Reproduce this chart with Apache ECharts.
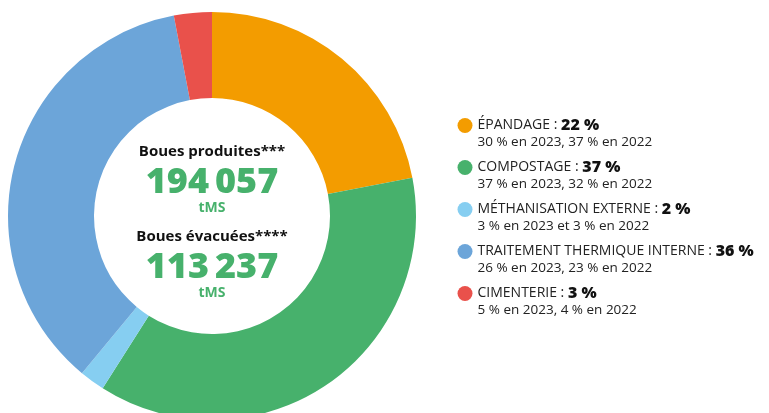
<!DOCTYPE html>
<html>
<head>
<meta charset="utf-8">
<script src="https://cdn.jsdelivr.net/npm/echarts@6/dist/echarts.min.js"></script>
<style>
html,body{margin:0;padding:0;background:#fff;}
#chart{width:769px;height:413px;}
</style>
</head>
<body>
<div id="chart"></div>
<script>
var categories = ['ÉPANDAGE', 'COMPOSTAGE', 'MÉTHANISATION EXTERNE', 'TRAITEMENT THERMIQUE INTERNE', 'CIMENTERIE'];
var values2024 = [22, 37, 2, 36, 3];
var values2023 = [30, 37, 3, 26, 5];
var values2022 = [37, 32, 3, 23, 4];
var joiners = [', ', ', ', ' et ', ', ', ', '];
var colors = ['#F39C00', '#47B16C', '#86CEF1', '#6CA5D9', '#E9514B'];
var centerTitles = ['Boues produites***', 'Boues évacuées****'];
var centerValues = ['194\u2009057', '113\u2009237'];
var centerUnit = 'tMS';

var FONT = 'Open Sans';
var chart = echarts.init(document.getElementById('chart'));

var legendTops = [124.5, 166.5, 208.5, 250.5, 292.5];
var legends = categories.map(function (c, i) {
  return {
    show: true,
    orient: 'vertical',
    left: 457.5,
    top: legendTops[i] - 22,
    padding: 0,
    itemWidth: 15,
    itemHeight: 15,
    icon: 'circle',
    selectedMode: false,
    data: [c],
    formatter: function (name) {
      var k = categories.indexOf(name);
      return '{p| }\n{a|' + name + ' : }{b|' + values2024[k] + ' %}\n{c|' +
        values2023[k] + ' % en 2023' + joiners[k] + values2022[k] + ' % en 2022}';
    },
    textStyle: {
      fontFamily: FONT,
      rich: {
        p: { fontSize: 12, lineHeight: 17, fontFamily: FONT },
        a: { fontSize: 14, lineHeight: 17, color: '#222', fontFamily: FONT },
        b: { fontSize: 16, lineHeight: 17, color: '#111', fontWeight: 800, fontFamily: FONT },
        c: { fontSize: 13.5, lineHeight: 17, color: '#222', fontFamily: FONT }
      }
    }
  };
});

var graphics = [];
var ys = [[152, 183, 208], [236.5, 267.5, 293]];
for (var g = 0; g < 2; g++) {
  graphics.push({
    type: 'text', x: 212, y: ys[g][0], silent: true,
    style: { text: centerTitles[g], fill: '#111', font: 'bold 15px "' + FONT + '"', align: 'center', verticalAlign: 'middle' }
  });
  graphics.push({
    type: 'text', x: 212, y: ys[g][1], silent: true,
    style: { text: centerValues[g], fill: '#47B16C', font: '800 36px "' + FONT + '"', align: 'center', verticalAlign: 'middle' }
  });
  graphics.push({
    type: 'text', x: 212, y: ys[g][2], silent: true,
    style: { text: centerUnit, fill: '#47B16C', font: 'bold 14px "' + FONT + '"', align: 'center', verticalAlign: 'middle' }
  });
}

chart.setOption({
  animation: false,
  color: colors,
  legend: legends,
  graphic: graphics,
  series: [{
    type: 'pie',
    center: [212, 216],
    radius: [118, 204],
    startAngle: 90,
    clockwise: true,
    silent: true,
    label: { show: false },
    labelLine: { show: false },
    itemStyle: { borderWidth: 0 },
    data: categories.map(function (c, i) { return { name: c, value: values2024[i] }; })
  }]
});
</script>
</body>
</html>
